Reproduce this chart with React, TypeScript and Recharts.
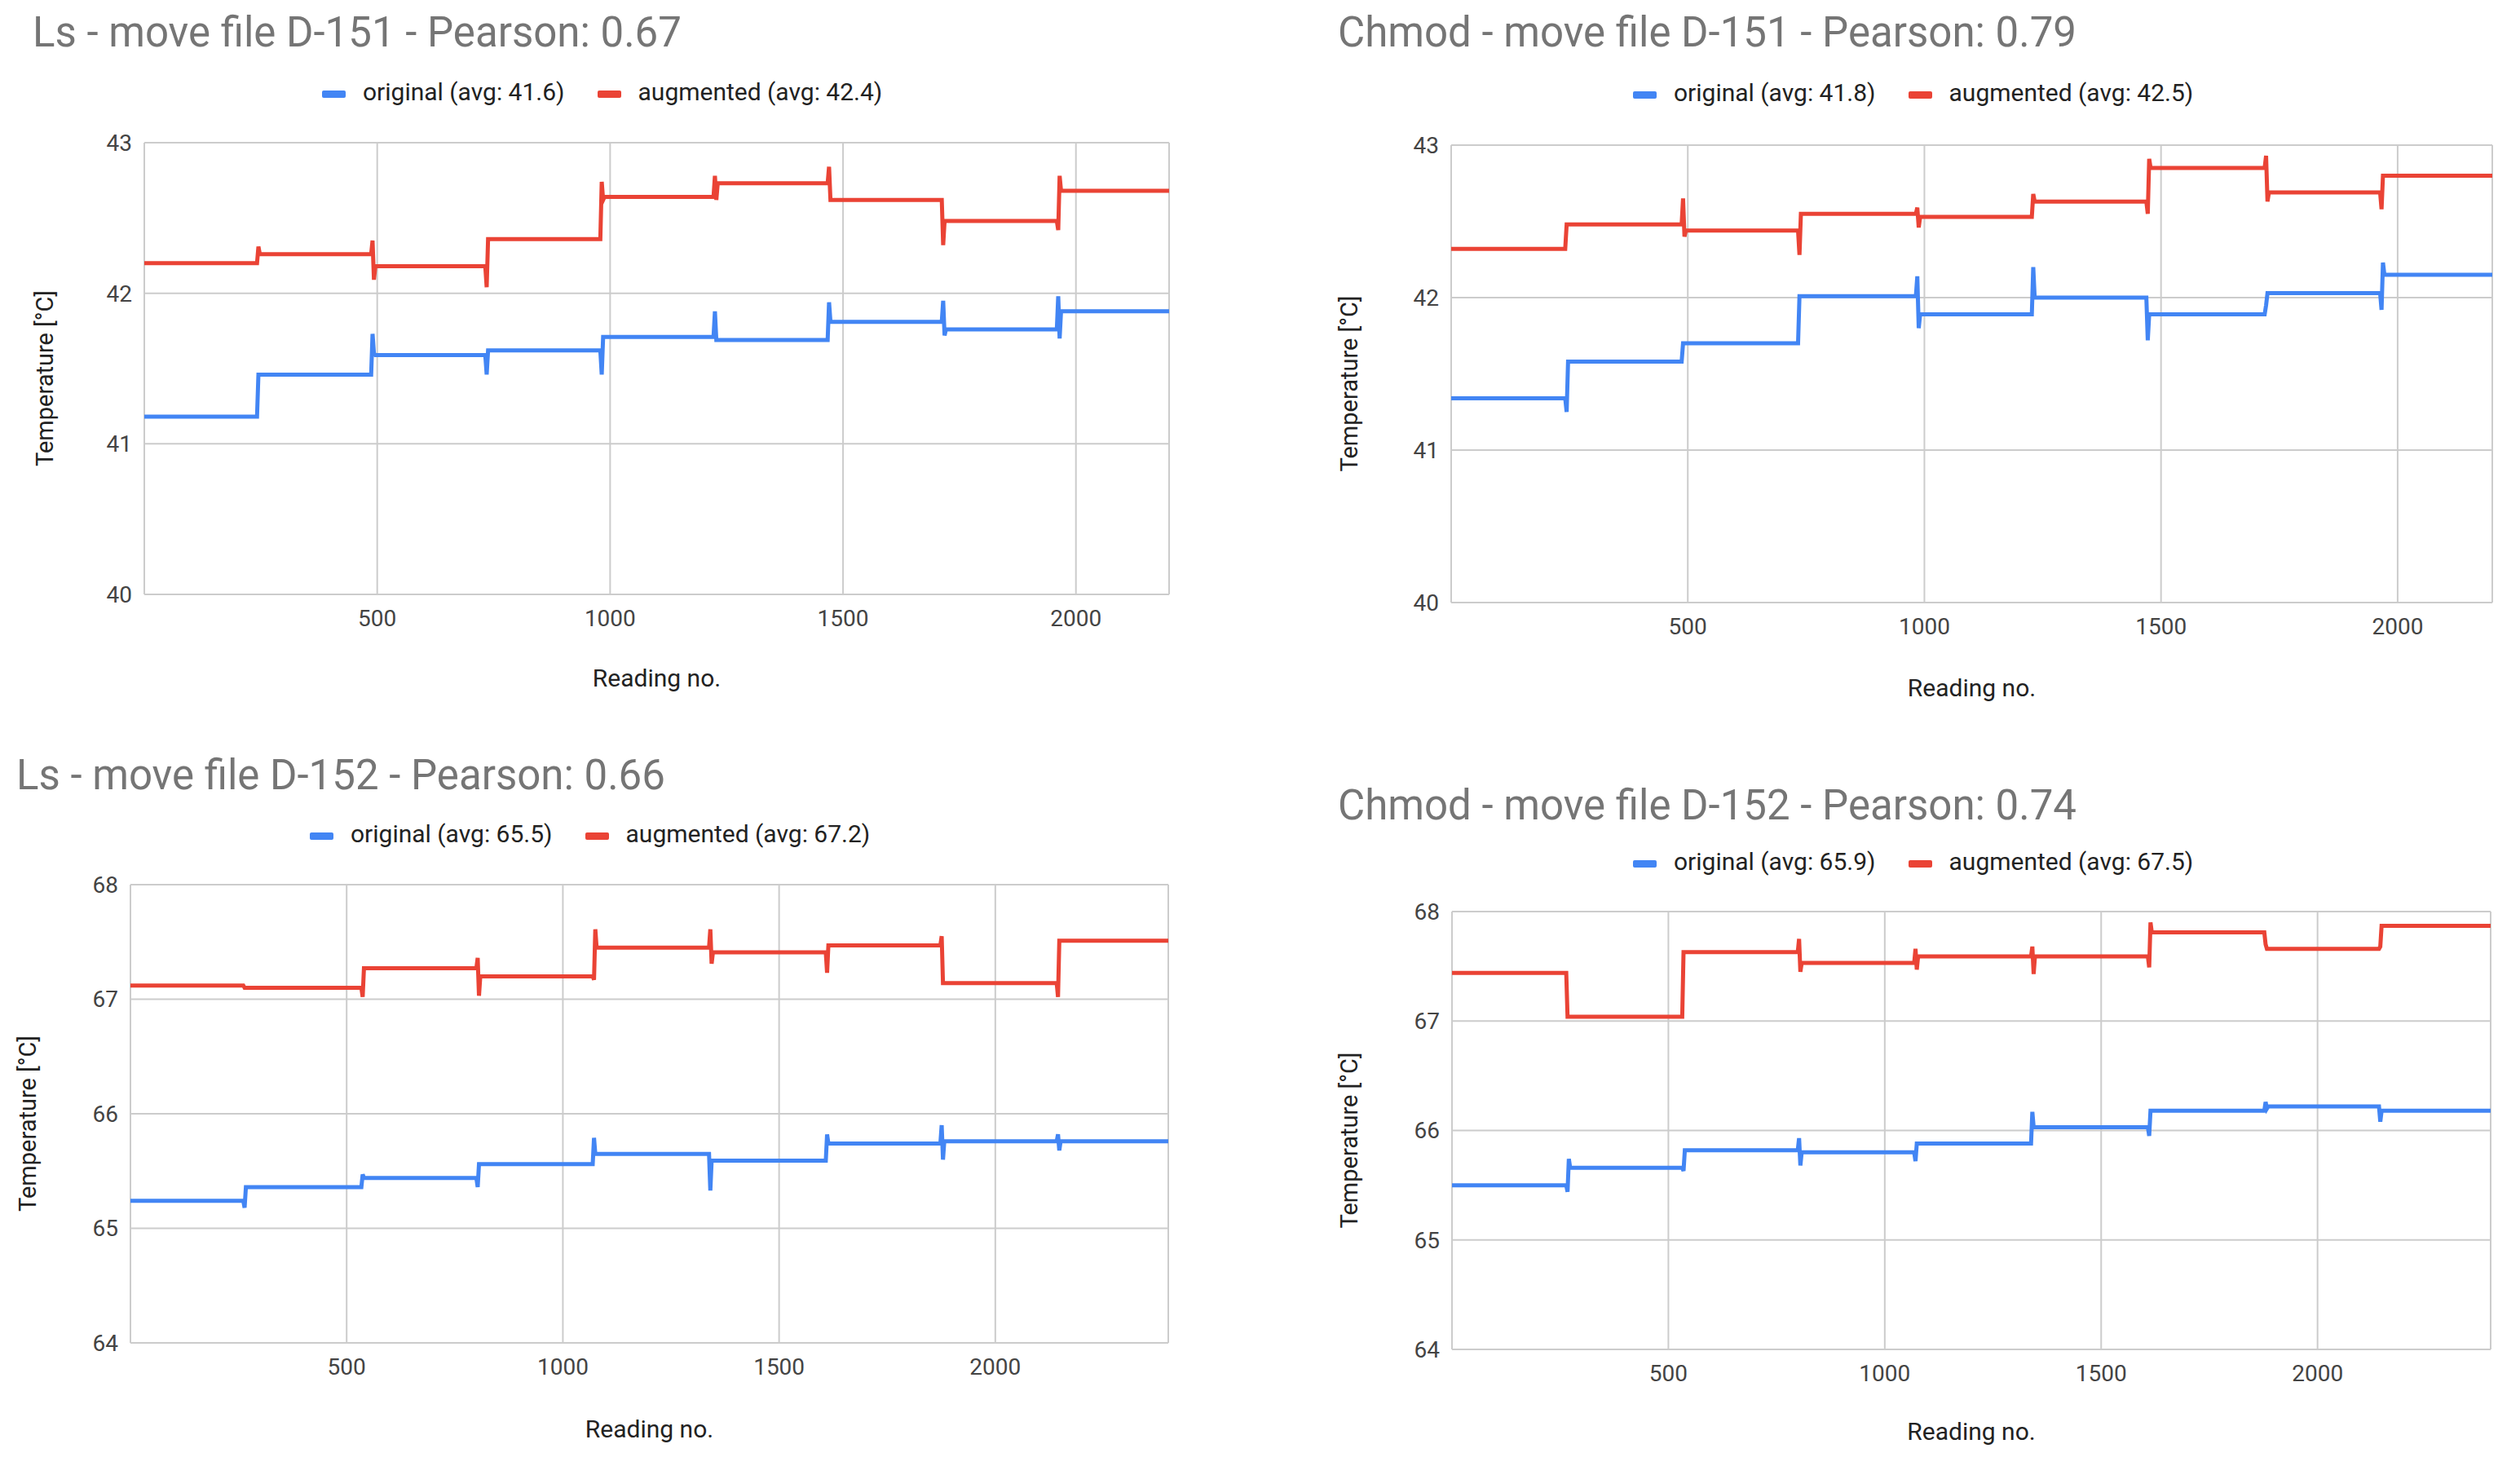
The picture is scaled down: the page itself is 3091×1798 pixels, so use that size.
import React from 'react';
import { LineChart, Line, XAxis, YAxis, CartesianGrid, Legend } from 'recharts';

const FONT = 'Roboto, "Noto Sans", Arial, sans-serif';
const BLUE = '#4285F4';
const RED = '#EA4335';

// ---------- Ls - move file D-151 ----------
const ls151Readings = [0, 242, 245, 248, 251, 487, 490, 493, 496, 732, 735, 738, 741, 979, 982, 985, 988, 1222, 1225, 1228, 1231, 1467, 1470, 1473, 1476, 1712, 1715, 1718, 1721, 1959, 1962, 1965, 1968, 2200];
const ls151Original = [41.18,
  41.18, 41.46, 41.46, 41.46,
  41.46, 41.73, 41.60, 41.59,
  41.59, 41.46, 41.62, 41.62,
  41.62, 41.46, 41.71, 41.71,
  41.71, 41.88, 41.69, 41.69,
  41.69, 41.94, 41.81, 41.81,
  41.81, 41.95, 41.72, 41.76,
  41.76, 41.98, 41.70, 41.88,
  41.88];
const ls151Augmented = [42.20,
  42.20, 42.31, 42.26, 42.26,
  42.26, 42.35, 42.09, 42.18,
  42.18, 42.04, 42.36, 42.36,
  42.36, 42.74, 42.62, 42.64,
  42.64, 42.78, 42.62, 42.73,
  42.73, 42.84, 42.62, 42.62,
  42.62, 42.32, 42.48, 42.48,
  42.48, 42.42, 42.78, 42.68,
  42.68];

// ---------- Chmod - move file D-151 ----------
const chmod151Readings = [0, 241, 244, 247, 250, 487, 490, 493, 496, 733, 736, 739, 742, 982, 985, 988, 991, 1227, 1230, 1233, 1236, 1469, 1472, 1475, 1478, 1719, 1722, 1725, 1728, 1963, 1966, 1969, 1972, 2200];
const chmod151Original = [41.34,
  41.34, 41.25, 41.58, 41.58,
  41.58, 41.70, 41.70, 41.70,
  41.70, 42.01, 42.01, 42.01,
  42.01, 42.14, 41.80, 41.89,
  41.89, 42.20, 42.00, 42.00,
  42.00, 41.72, 41.89, 41.89,
  41.89, 41.95, 42.03, 42.03,
  42.03, 41.92, 42.23, 42.15,
  42.15];
const chmod151Augmented = [42.32,
  42.32, 42.48, 42.48, 42.48,
  42.48, 42.65, 42.40, 42.44,
  42.44, 42.28, 42.55, 42.55,
  42.55, 42.59, 42.46, 42.53,
  42.53, 42.68, 42.63, 42.63,
  42.63, 42.55, 42.91, 42.85,
  42.85, 42.93, 42.63, 42.69,
  42.69, 42.58, 42.80, 42.80,
  42.80];

// ---------- Ls - move file D-152 ----------
const ls152Readings = [0, 261, 264, 267, 270, 534, 537, 540, 543, 800, 803, 806, 809, 1069, 1072, 1075, 1078, 1338, 1341, 1344, 1347, 1608, 1611, 1614, 1617, 1873, 1876, 1879, 1882, 2142, 2145, 2148, 2151, 2400];
const ls152Original = [65.24,
  65.24, 65.18, 65.36, 65.36,
  65.36, 65.47, 65.44, 65.44,
  65.44, 65.36, 65.56, 65.56,
  65.56, 65.79, 65.65, 65.65,
  65.65, 65.33, 65.59, 65.59,
  65.59, 65.82, 65.74, 65.74,
  65.74, 65.90, 65.60, 65.76,
  65.76, 65.82, 65.68, 65.76,
  65.76];
const ls152Augmented = [67.12,
  67.12, 67.10, 67.10, 67.10,
  67.10, 67.02, 67.27, 67.27,
  67.27, 67.36, 67.03, 67.20,
  67.20, 67.17, 67.61, 67.45,
  67.45, 67.61, 67.31, 67.41,
  67.41, 67.23, 67.47, 67.47,
  67.47, 67.55, 67.14, 67.14,
  67.14, 67.02, 67.51, 67.51,
  67.51];

// ---------- Chmod - move file D-152 ----------
const chmod152Readings = [0, 264, 267, 270, 273, 532, 535, 538, 541, 799, 802, 805, 808, 1068, 1071, 1074, 1077, 1338, 1341, 1344, 1347, 1608, 1611, 1614, 1617, 1877, 1880, 1883, 1886, 2142, 2145, 2148, 2151, 2400];
const chmod152Original = [65.50,
  65.50, 65.44, 65.74, 65.66,
  65.66, 65.63, 65.82, 65.82,
  65.82, 65.93, 65.68, 65.80,
  65.80, 65.72, 65.88, 65.88,
  65.88, 66.17, 66.03, 66.03,
  66.03, 65.95, 66.18, 66.18,
  66.18, 66.26, 66.20, 66.22,
  66.22, 66.08, 66.18, 66.18,
  66.18];
const chmod152Augmented = [67.44,
  67.44, 67.04, 67.04, 67.04,
  67.04, 67.63, 67.63, 67.63,
  67.63, 67.75, 67.45, 67.53,
  67.53, 67.66, 67.47, 67.59,
  67.59, 67.68, 67.43, 67.59,
  67.59, 67.49, 67.90, 67.81,
  67.81, 67.70, 67.66, 67.66,
  67.66, 67.68, 67.87, 67.87,
  67.87];

// ---------- ticks ----------
const xTicks151 = [500, 1000, 1500, 2000];
const xTicks152 = [500, 1000, 1500, 2000];
const yTicks151 = [40, 41, 42, 43];
const yTicks152 = [64, 65, 66, 67, 68];

const SERIES_ORDER = ['original', 'augmented'];
const X_TITLE = 'Reading no.';
const Y_TITLE = 'Temperature [°C]';

function XTitle(props: any) {
  return (
    <text x={props.px} y={props.py} textAnchor="middle" fontSize={30} fill="#222" fontFamily={FONT}>
      {props.text}
    </text>
  );
}

function YTitle(props: any) {
  return (
    <text
      x={props.px}
      y={props.py}
      transform={`rotate(-90 ${props.px} ${props.py})`}
      textAnchor="middle"
      dominantBaseline="central"
      fontSize={29}
      fill="#222"
      fontFamily={FONT}
    >
      {props.text}
    </text>
  );
}

const renderLegend = (props: any) => {
  const payload = [...(props.payload || [])].sort(
    (a: any, b: any) => SERIES_ORDER.indexOf(a.dataKey) - SERIES_ORDER.indexOf(b.dataKey)
  );
  return (
    <div style={{ display: 'flex', alignItems: 'center', fontFamily: FONT, fontSize: 30, lineHeight: '30px', color: '#222', whiteSpace: 'nowrap' }}>
      {payload.map((e: any, i: number) => (
        <div key={i} style={{ display: 'flex', alignItems: 'center', marginRight: i < payload.length - 1 ? 40 : 0 }}>
          <span style={{ display: 'inline-block', width: 29, height: 9, borderRadius: 2, background: e.color, marginRight: 21, transform: 'translateY(2px)' }} />
          <span>{e.value}</span>
        </div>
      ))}
    </div>
  );
};

type PanelProps = {
  left: number; top: number; width: number; height: number;
  plotLeft: number; plotTop: number; plotRight: number; plotBottom: number;
  title: string; titleX: number; titleBaseline: number;
  legendLeft: number; legendCy: number;
  yTitleX: number; xTitleBaseline: number;
  readings: number[]; original: number[]; augmented: number[];
  originalName: string; augmentedName: string;
  xDomain: [number, number]; xTicks: number[];
  yDomain: [number, number]; yTicks: number[];
};

function Panel(p: PanelProps) {
  const data = p.readings.map((r, i) => ({ reading: r, original: p.original[i], augmented: p.augmented[i] }));
  const cx = (p.plotLeft + p.plotRight) / 2;
  const cy = (p.plotTop + p.plotBottom) / 2 + 12;
  const tickStyle = { fill: '#444', fontSize: 28, fontFamily: FONT };
  return (
    <div style={{ position: 'absolute', left: p.left, top: p.top, width: p.width, height: p.height }}>
      <LineChart
        width={p.width}
        height={p.height}
        data={data}
        margin={{ top: p.plotTop, right: p.width - p.plotRight, bottom: 0, left: 0 }}
      >
        <CartesianGrid stroke="#cccccc" strokeWidth={2} />
        <XAxis
          dataKey="reading"
          type="number"
          domain={p.xDomain}
          ticks={p.xTicks}
          height={p.height - p.plotBottom}
          axisLine={false}
          tickLine={false}
          tickSize={0}
          tickMargin={19}
          tick={tickStyle}
          label={<XTitle px={cx} py={p.xTitleBaseline} text={X_TITLE} />}
        />
        <YAxis
          type="number"
          domain={p.yDomain}
          ticks={p.yTicks}
          width={p.plotLeft}
          axisLine={false}
          tickLine={false}
          tickSize={0}
          tickMargin={15}
          tick={tickStyle}
          label={<YTitle px={p.yTitleX} py={cy} text={Y_TITLE} />}
        />
        <Legend
          verticalAlign="middle"
          align="center"
          layout="horizontal"
          wrapperStyle={{ top: p.legendCy - 17, left: p.legendLeft, width: 'auto' }}
          content={renderLegend}
        />
        <Line type="linear" dataKey="original" name={p.originalName} stroke={BLUE} strokeWidth={5} dot={false} activeDot={false} isAnimationActive={false} />
        <Line type="linear" dataKey="augmented" name={p.augmentedName} stroke={RED} strokeWidth={5} dot={false} activeDot={false} isAnimationActive={false} />
      </LineChart>
      <div
        style={{
          position: 'absolute', left: p.titleX, top: p.titleBaseline - 43,
          fontSize: 51, lineHeight: '51px', color: '#757575', fontFamily: FONT, whiteSpace: 'nowrap',
        }}
      >
        {p.title}
      </div>
    </div>
  );
}

export default function App() {
  return (
    <div style={{ position: 'absolute', left: 0, top: 0, width: 3091, height: 1798, background: '#fff', overflow: 'hidden' }}>
      <Panel
        left={0} top={0} width={1545} height={900}
        plotLeft={177} plotTop={175} plotRight={1434} plotBottom={729}
        title="Ls - move file D-151 - Pearson: 0.67" titleX={40} titleBaseline={57}
        legendLeft={395} legendCy={115}
        yTitleX={55} xTitleBaseline={842}
        readings={ls151Readings} original={ls151Original} augmented={ls151Augmented}
        originalName="original (avg: 41.6)" augmentedName="augmented (avg: 42.4)"
        xDomain={[0, 2200]} xTicks={xTicks151} yDomain={[40, 43]} yTicks={yTicks151}
      />
      <Panel
        left={1545} top={0} width={1546} height={900}
        plotLeft={235} plotTop={178} plotRight={1512} plotBottom={739}
        title="Chmod - move file D-151 - Pearson: 0.79" titleX={96} titleBaseline={57}
        legendLeft={458} legendCy={116}
        yTitleX={110} xTitleBaseline={854}
        readings={chmod151Readings} original={chmod151Original} augmented={chmod151Augmented}
        originalName="original (avg: 41.8)" augmentedName="augmented (avg: 42.5)"
        xDomain={[0, 2200]} xTicks={xTicks151} yDomain={[40, 43]} yTicks={yTicks151}
      />
      <Panel
        left={0} top={900} width={1545} height={898}
        plotLeft={160} plotTop={185} plotRight={1433} plotBottom={747}
        title="Ls - move file D-152 - Pearson: 0.66" titleX={20} titleBaseline={68}
        legendLeft={380} legendCy={125}
        yTitleX={34} xTitleBaseline={863}
        readings={ls152Readings} original={ls152Original} augmented={ls152Augmented}
        originalName="original (avg: 65.5)" augmentedName="augmented (avg: 67.2)"
        xDomain={[0, 2400]} xTicks={xTicks152} yDomain={[64, 68]} yTicks={yTicks152}
      />
      <Panel
        left={1545} top={900} width={1546} height={898}
        plotLeft={236} plotTop={218} plotRight={1510} plotBottom={755}
        title="Chmod - move file D-152 - Pearson: 0.74" titleX={96} titleBaseline={105}
        legendLeft={458} legendCy={159}
        yTitleX={110} xTitleBaseline={866}
        readings={chmod152Readings} original={chmod152Original} augmented={chmod152Augmented}
        originalName="original (avg: 65.9)" augmentedName="augmented (avg: 67.5)"
        xDomain={[0, 2400]} xTicks={xTicks152} yDomain={[64, 68]} yTicks={yTicks152}
      />
    </div>
  );
}
